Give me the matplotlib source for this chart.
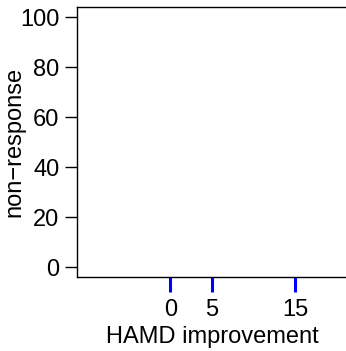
import matplotlib
matplotlib.use("Agg")
import matplotlib.pyplot as plt

plt.rcParams['font.family'] = ['Liberation Sans', 'DejaVu Sans']

x_ticks = [0, 5, 15]
y_ticks = [0, 20, 40, 60, 80, 100]
x_label = "HAMD improvement"
y_label = "non\u2212response"

W, H = 346, 351
fig = plt.figure(figsize=(W / 100, H / 100), dpi=100)
ax = fig.add_axes([77 / W, 74 / H, 270 / W, 270 / H])
ax.set_xlim(-11.2, 21.2)
ax.set_ylim(-4, 104)

ax.set_xticks(x_ticks)
ax.set_xticklabels([str(v) for v in x_ticks])
ax.set_yticks(y_ticks)
ax.set_yticklabels([str(v) for v in y_ticks])

for s in ax.spines.values():
    s.set_linewidth(1.0)
    s.set_color('black')

ax.tick_params(axis='x', direction='out', length=10.8, width=2.2, color='#0000FF',
               labelcolor='black', labelsize=17, pad=4.7)
ax.tick_params(axis='y', direction='out', length=8.6, width=1.0, color='black',
               labelsize=17, pad=4)

ax.set_xlabel(x_label, fontsize=17, labelpad=4)
ax.set_ylabel(y_label, fontsize=17)
ax.yaxis.set_label_coords(-52 / 270, 0.5)

fig.savefig("out.png", dpi=100)
